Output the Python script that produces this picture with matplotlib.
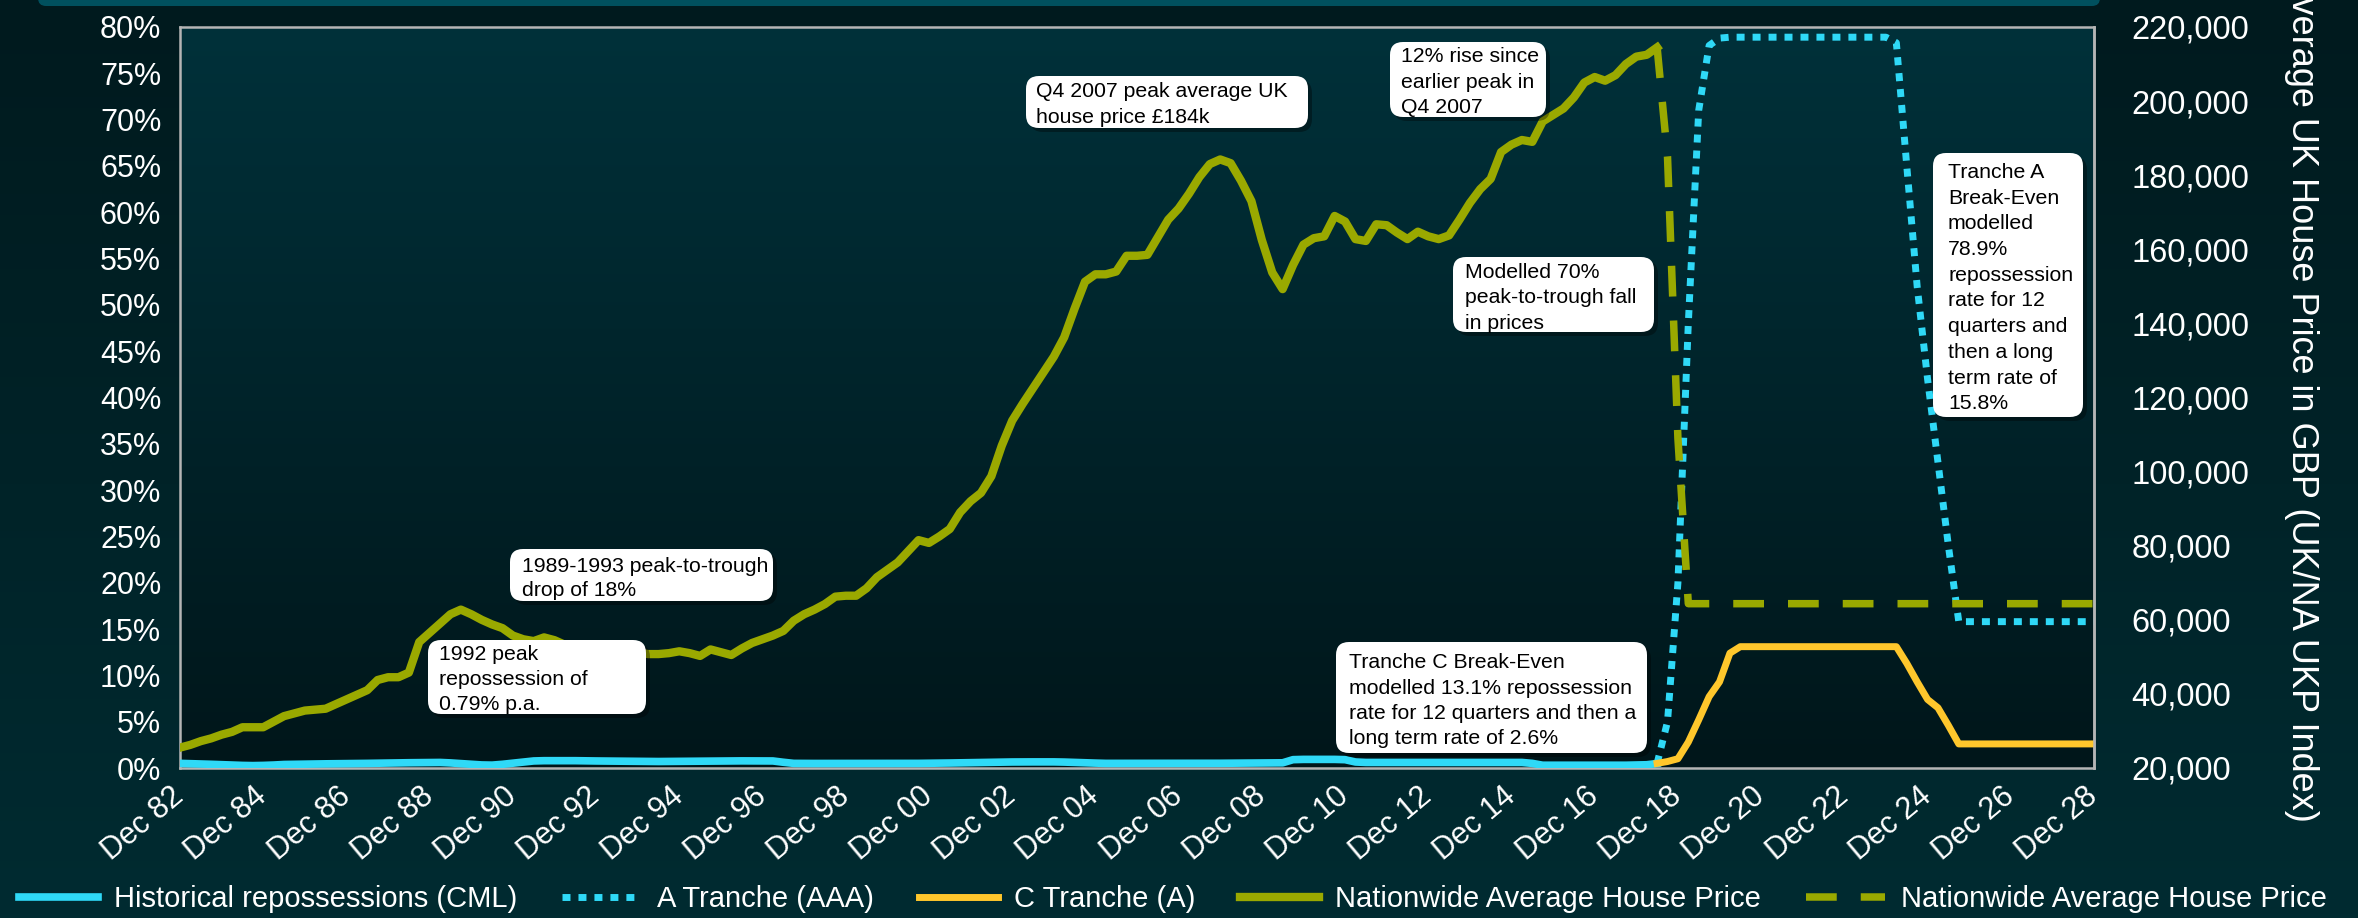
import matplotlib
matplotlib.use("Agg")
import matplotlib.pyplot as plt
import numpy as np
from matplotlib.colors import LinearSegmentedColormap
from matplotlib.patches import FancyBboxPatch
from matplotlib.transforms import ScaledTranslation

plt.rcParams['font.family'] = ['Liberation Sans', 'DejaVu Sans']

W, H = 2358, 918

# quarterly series, index 0 = Dec 82
repossessions_hist = [  # % p.a., CML
    0.50, 0.47, 0.44, 0.40, 0.36, 0.32, 0.28, 0.26, 0.28, 0.32,
    0.38, 0.40, 0.42, 0.43, 0.45, 0.46, 0.47, 0.49, 0.50, 0.52,
    0.54, 0.55, 0.57, 0.58, 0.59, 0.60, 0.55, 0.48, 0.40, 0.33,
    0.31, 0.40, 0.52, 0.65, 0.76, 0.79, 0.79, 0.79, 0.79, 0.77,
    0.76, 0.75, 0.74, 0.73, 0.72, 0.71, 0.70, 0.71, 0.72, 0.73,
    0.74, 0.75, 0.76, 0.76, 0.77, 0.77, 0.78, 0.76, 0.62, 0.50,
    0.49, 0.49, 0.49, 0.49, 0.49, 0.49, 0.49, 0.49, 0.49, 0.49,
    0.49, 0.50, 0.51, 0.52, 0.54, 0.56, 0.58, 0.60, 0.62, 0.64,
    0.65, 0.66, 0.66, 0.66, 0.66, 0.64, 0.60, 0.56, 0.53, 0.50,
    0.50, 0.49, 0.49, 0.49, 0.49, 0.49, 0.49, 0.49, 0.49, 0.50,
    0.51, 0.52, 0.53, 0.54, 0.55, 0.56, 0.56, 0.90, 0.93, 0.93,
    0.93, 0.93, 0.90, 0.65, 0.60, 0.60, 0.60, 0.60, 0.60, 0.60,
    0.60, 0.60, 0.60, 0.60, 0.60, 0.60, 0.60, 0.60, 0.60, 0.60,
    0.50, 0.30, 0.30, 0.30, 0.30, 0.30, 0.30, 0.30, 0.30, 0.30,
    0.32, 0.35, 0.49,
]

house_price_hist = [  # GBP, Nationwide
    25500, 26250, 27250, 28000, 29000, 29750, 31000, 31000, 31000, 32500,
    34000, 34750, 35500, 35750, 36000, 37250, 38500, 39750, 41000, 43750,
    44500, 44500, 45750, 54000, 56500, 59000, 61500, 62750, 61500, 60000,
    58750, 57750, 55750, 54750, 54250, 55250, 54500, 53250, 52250, 53000,
    51500, 49500, 52000, 51750, 51250, 50750, 50750, 51000, 51500, 51000,
    50250, 52000, 51250, 50500, 52250, 53750, 54750, 55750, 57000, 59750,
    61500, 62750, 64250, 66250, 66500, 66500, 68500, 71500, 73500, 75500,
    78500, 81500, 80750, 82500, 84500, 89000, 92000, 94250, 98750, 107000,
    113750, 118250, 122500, 126750, 131000, 136250, 144000, 151250, 153250, 153250,
    154000, 158250, 158250, 158500, 163250, 168000, 171000, 175000, 179500, 183000,
    184250, 183250, 178500, 173000, 162500, 153750, 149250, 155750, 161250, 163000,
    163500, 169000, 167500, 162750, 162250, 166750, 166500, 164500, 162750, 164750,
    163500, 162750, 163750, 168000, 172500, 176250, 179000, 186250, 188250, 189500,
    189000, 194500, 196250, 198000, 201000, 205000, 206500, 205500, 207000, 210000,
    212000, 212500, 214500,
]

# modelled scenario, starts at quarter 142
model_start = 142
tranche_a = [  # % repossession, A tranche break-even
    0.5, 5.0, 20.0, 48.0, 71.0, 78.0, 78.8, 78.9, 78.9,
    78.9, 78.9, 78.9, 78.9, 78.9, 78.9, 78.9, 78.9, 78.9, 78.9, 78.9, 78.9, 78.9, 78.9,
    78.3, 65.0, 52.0, 42.0, 33.0, 24.0, 15.8,
    15.8, 15.8, 15.8, 15.8, 15.8, 15.8, 15.8, 15.8, 15.8, 15.8, 15.8, 15.8, 15.8,
]
tranche_c = [  # % repossession, C tranche break-even
    0.5, 0.7, 1.0, 2.8, 5.2, 7.7, 9.3, 12.4, 13.1,
    13.1, 13.1, 13.1, 13.1, 13.1, 13.1, 13.1, 13.1, 13.1, 13.1, 13.1, 13.1, 13.1, 13.1,
    13.1, 11.3, 9.3, 7.4, 6.5, 4.6, 2.6,
    2.6, 2.6, 2.6, 2.6, 2.6, 2.6, 2.6, 2.6, 2.6, 2.6, 2.6, 2.6, 2.6,
]
house_price_model = [  # GBP, 70% peak-to-trough fall
    214500, 185000, 109000,
    64350, 64350, 64350, 64350, 64350, 64350, 64350, 64350, 64350, 64350,
    64350, 64350, 64350, 64350, 64350, 64350, 64350, 64350, 64350, 64350,
    64350, 64350, 64350, 64350, 64350, 64350, 64350, 64350, 64350, 64350,
    64350, 64350, 64350, 64350, 64350, 64350, 64350, 64350, 64350, 64350,
]

tick_labels = ['Dec 82', 'Dec 84', 'Dec 86', 'Dec 88', 'Dec 90', 'Dec 92',
               'Dec 94', 'Dec 96', 'Dec 98', 'Dec 00', 'Dec 02', 'Dec 04',
               'Dec 06', 'Dec 08', 'Dec 10', 'Dec 12', 'Dec 14', 'Dec 16',
               'Dec 18', 'Dec 20', 'Dec 22', 'Dec 24', 'Dec 26', 'Dec 28']
pct_ticks = [0, 5, 10, 15, 20, 25, 30, 35, 40, 45, 50, 55, 60, 65, 70, 75, 80]
price_ticks = [20000, 40000, 60000, 80000, 100000, 120000, 140000, 160000,
               180000, 200000, 220000]

legend_labels = ['Historical repossessions (CML)', 'A Tranche (AAA)', 'C Tranche (A)',
                 'Nationwide Average House Price', 'Nationwide Average House Price']

notes = [
    # box (left, top, right, bottom) in px, text x, first baseline, line pitch, lines
    ((510, 549, 773, 601), 522, 572, 24.0, ['1989-1993 peak-to-trough', 'drop of 18%']),
    ((428, 640, 646, 714), 439, 660, 25.0, ['1992 peak', 'repossession of', '0.79% p.a.']),
    ((1026, 76, 1308, 128), 1036, 97, 26.0, ['Q4 2007 peak average UK', 'house price £184k']),
    ((1390, 42, 1546, 117), 1401, 62, 25.5, ['12% rise since', 'earlier peak in', 'Q4 2007']),
    ((1453, 257, 1654, 332), 1465, 278, 25.3, ['Modelled 70%', 'peak-to-trough fall', 'in prices']),
    ((1336, 642, 1647, 753), 1349, 668, 25.5, ['Tranche C Break-Even',
                                               'modelled 13.1% repossession',
                                               'rate for 12 quarters and then a',
                                               'long term rate of 2.6%']),
    ((1933, 153, 2083, 417), 1948, 178, 25.7, ['Tranche A', 'Break-Even', 'modelled', '78.9%',
                                               'repossession', 'rate for 12', 'quarters and',
                                               'then a long', 'term rate of', '15.8%']),
]

CYAN = '#2fd9f7'
YELLOW = '#ffc72c'
OLIVE = '#9aa900'

fig = plt.figure(figsize=(W / 100, H / 100), dpi=100)

# figure background with header strip
bg = fig.add_axes([0, 0, 1, 1], zorder=-10)
bg.set_xlim(0, W)
bg.set_ylim(H, 0)
bg.axis('off')
bg_cmap = LinearSegmentedColormap.from_list('bg', ['#001a1e', '#002b31'])
bg.imshow(np.linspace(0, 1, 256).reshape(-1, 1), cmap=bg_cmap, aspect='auto',
          extent=[0, W, H, 0])
bg.add_patch(FancyBboxPatch((38, -40), 2062, 46, boxstyle='round,pad=0,rounding_size=8',
                            fc='#00505e', ec='none'))

ax = fig.add_axes([180 / W, 1 - 768 / H, (2094 - 180) / W, (768 - 27) / H])
ax2 = ax.twinx()

q_hist = np.arange(len(repossessions_hist))
q_model = np.arange(model_start, model_start + len(tranche_a))

ax_cmap = LinearSegmentedColormap.from_list('ax', ['#00313a', '#00161a'])
ax.imshow(np.linspace(0, 1, 256).reshape(-1, 1), cmap=ax_cmap, aspect='auto',
          extent=[0, 184, 0, 80], zorder=0)

l1, = ax.plot(q_hist, repossessions_hist, color=CYAN, lw=5.5, solid_joinstyle='round', zorder=3)
l2, = ax.plot(q_model, tranche_a, color=CYAN, lw=5, dashes=(1.15, 1.15),
              dash_capstyle='butt', zorder=3)
l3, = ax.plot(q_model, tranche_c, color=YELLOW, lw=5, solid_joinstyle='round', zorder=4)
l4, = ax2.plot(q_hist, house_price_hist, color=OLIVE, lw=6, solid_joinstyle='round')
l5, = ax2.plot(q_model, house_price_model, color=OLIVE, lw=5.4, dashes=(4.1, 3.2),
               dash_capstyle='butt')

ax.set_xlim(0, 184)
ax.set_ylim(0, 80)
ax2.set_ylim(20000, 220000)

ax.set_yticks(pct_ticks)
ax.set_yticklabels([f'{v}%' for v in pct_ticks])
ax2.set_yticks(price_ticks)
ax2.set_yticklabels([f'{v:,}' for v in price_ticks])
ax.set_xticks(np.arange(0, 185, 8))
ax.set_xticklabels(tick_labels, rotation=40, ha='right', va='center',
                   rotation_mode='anchor')
shift = ScaledTranslation(0.12, 0, fig.dpi_scale_trans)
for lab in ax.get_xticklabels():
    lab.set_transform(lab.get_transform() + shift)

ax.tick_params(axis='y', length=0, pad=13.5, labelsize=22, labelcolor='white')
ax.tick_params(axis='x', length=0, pad=18, labelsize=22, labelcolor='white')
ax2.tick_params(axis='y', length=0, pad=27, labelsize=23.5, labelcolor='white')

for sp in ax.spines.values():
    sp.set_color('#b5b5b5')
    sp.set_linewidth(1.8)
for name, sp in ax2.spines.items():
    if name == 'right':
        sp.set_color('#b5b5b5')
        sp.set_linewidth(1.8)
    else:
        sp.set_visible(False)

ax2.set_ylabel('Average UK House Price in GBP (UK/NA UKP Index)', color='white',
               fontsize=26, rotation=270, va='center', ha='center')
ax2.yaxis.set_label_coords((2302 - 180) / (2094 - 180), 0.5)

fig.legend([l1, l2, l3, l4, l5], legend_labels, loc='center', ncol=5,
           bbox_to_anchor=(1173 / W, 19 / H), frameon=False, fontsize=21,
           labelcolor='white', handlelength=2.7, handletextpad=0.55,
           columnspacing=1.55, borderpad=0, borderaxespad=0)

# annotation boxes on an overlay in pixel coordinates
ov = fig.add_axes([0, 0, 1, 1], zorder=10)
ov.set_xlim(0, W)
ov.set_ylim(H, 0)
ov.axis('off')
ov.patch.set_alpha(0)
for (l, t, r, b), tx, y0, pitch, lines in notes:
    ov.add_patch(FancyBboxPatch((l + 4, t + 4), r - l, b - t,
                                boxstyle='round,pad=0,rounding_size=13',
                                fc='black', alpha=0.35, ec='none'))
    ov.add_patch(FancyBboxPatch((l, t), r - l, b - t,
                                boxstyle='round,pad=0,rounding_size=13',
                                fc='white', ec='none'))
    for i, line in enumerate(lines):
        ov.text(tx, y0 + i * pitch, line, fontsize=15.3, color='black',
                ha='left', va='baseline')

fig.savefig('out.png', dpi=100)
